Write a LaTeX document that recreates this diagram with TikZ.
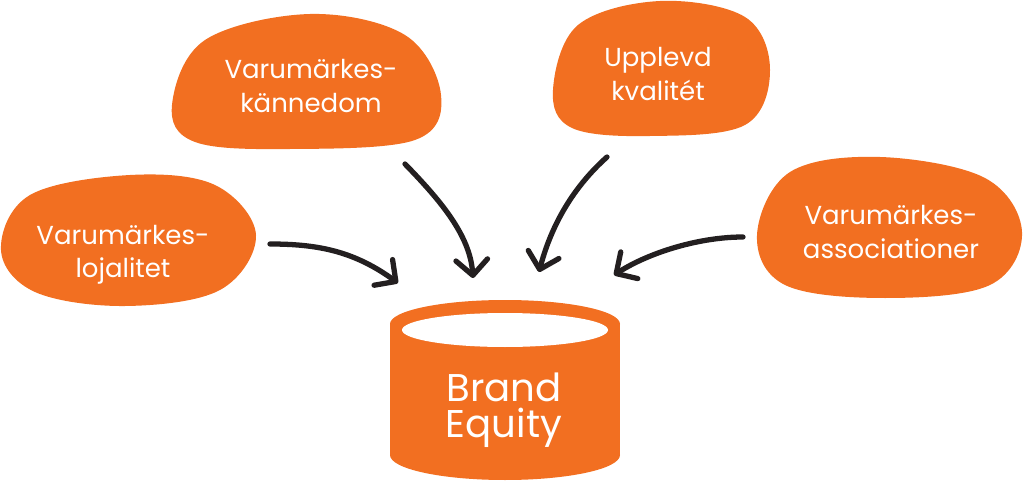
\documentclass[tikz,border=0pt]{standalone}
\usepackage{fontspec}
\setmainfont{Poppins}
\usetikzlibrary{arrows.meta}

\definecolor{brandorange}{HTML}{F26F21}
\definecolor{arrowink}{HTML}{231F20}

\tikzset{
	blob/.style={fill=brandorange},
	blobtext/.style={text=white, align=center, inner sep=0pt, font=\fontsize{7.4}{9.4}\selectfont},
	flow/.style={draw=arrowink, line width=1.5pt, line cap=round,
		-{Straight Barb[length=4.4pt, width=9pt, round]}},
}

\begin{document}
\begin{tikzpicture}[x=0.1mm, y=-0.1mm]
		\useasboundingbox (0,0) rectangle (1024,482);
		% blobs
		\fill[blob] plot [smooth cycle, tension=0.6] coordinates {(1,250) (30,195) (130,175) (215,185) (256,235) (220,290) (125,306) (35,292)};
		\fill[blob] plot [smooth cycle, tension=0.6] coordinates {(172,105) (205,40) (310,14) (405,35) (441,95) (415,140) (290,149) (195,142)};
		\fill[blob] plot [smooth cycle, tension=0.6] coordinates {(553,90) (578,25) (660,1) (745,17) (770,70) (745,125) (650,136) (572,128)};
		\fill[blob] plot [smooth cycle, tension=0.6] coordinates {(757,235) (790,172) (880,157) (985,178) (1022,232) (990,285) (885,298) (785,285)};
		\node [blobtext] at (123,255) (loyal) {Varumärkes-\\lojalitet};
		\node [blobtext] at (311,86) (aware) {Varumärkes-\\kännedom};
		\node [blobtext] at (658,74) (quality) {Upplevd\\kvalitét};
		\node [blobtext] at (891,232) (assoc) {Varumärkes-\\associationer};
		% cylinder
		\fill[blob] (505,455) ellipse [x radius=115, y radius=25];
		\fill[blob] (390,324) rectangle (620,455);
		\fill[blob] (505,324) ellipse [x radius=115, y radius=24];
		\fill[white] (505,330) ellipse [x radius=103, y radius=17];
		\node [blobtext, font=\fontsize{11}{10.4}\selectfont] at (504,410) (equity) {Brand\\Equity};
		% arrows
		\coordinate (l1) at (270,244);
		\coordinate (l2) at (398,283);
		\coordinate (a1) at (405,164);
		\coordinate (a2) at (473,278);
		\coordinate (q1) at (607,157);
		\coordinate (q2) at (539,272);
		\coordinate (s1) at (743,237);
		\coordinate (s2) at (614,275);
		\draw [flow] (l1) .. controls (320,244) and (355,252) .. (l2);
		\draw [flow] (a1) .. controls (440,200) and (470,235) .. (a2);
		\draw [flow] (q1) .. controls (570,190) and (550,230) .. (q2);
		\draw [flow] (s1) .. controls (700,237) and (650,252) .. (s2);
	\end{tikzpicture}
\end{document}
